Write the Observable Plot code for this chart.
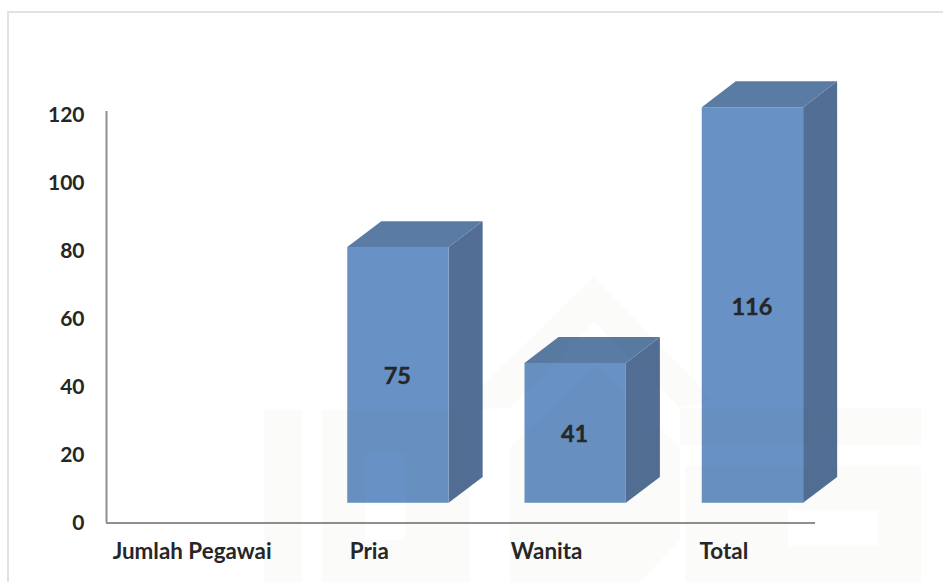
<!DOCTYPE html>
<html>
<head>
<meta charset="utf-8">
<script src="https://cdn.jsdelivr.net/npm/d3@7"></script>
<script src="https://cdn.jsdelivr.net/npm/@observablehq/plot@0.6"></script>
<style>
  html, body { margin: 0; padding: 0; background: #fff; }
  #wrap { position: relative; width: 943px; height: 582px; overflow: hidden; }
  #frame { position: absolute; left: 7px; top: 11px; width: 940px; height: 580px;
           border-left: 2px solid #e2e2e2; border-top: 2px solid #e2e2e2; }
  #mark { position: absolute; left: 0; top: 0; pointer-events: none; }
  #mark path { fill: rgb(90, 90, 50); fill-opacity: 0.022; fill-rule: evenodd; }
</style>
</head>
<body>
<div id="wrap">
  <div id="frame"></div>
  <div id="chart"></div>
  <svg id="mark" width="943" height="582" aria-hidden="true">
    <path d="M457 410L594 277L713 400L680 408L594 322L510 408Z"/>
    <path d="M264 410H302V582H264Z"/>
    <path d="M322 410H470V582H322ZM365 453V540H405V453Z"/>
    <path d="M510 447L594 365L680 447V540L640 582H510Z"/>
    <path d="M680 408H921V445H680Z"/>
    <path d="M685 466H921V582H685ZM788 510V546H878V510Z"/>
  </svg>
</div>
<script>
const categories = ["Jumlah Pegawai", "Pria", "Wanita", "Total"];
const values = [null, 75, 41, 116];
const yTicks = [0, 20, 40, 60, 80, 100, 120];

const font = "Lato, 'Open Sans', sans-serif";
const ink = "#262626";

// Geometry of the pseudo-3D bars, in units of the x and y scales
const barLeft = 0.361, barWidth = 0.572, depthX = 0.192, depthY = 7.6, floor = 5.8;

const bars = categories
  .map((name, i) => ({name, i, value: values[i]}))
  .filter(d => d.value != null)
  .map(d => ({...d, x0: d.i + barLeft, x1: d.i + barLeft + barWidth, y0: floor, y1: floor + d.value * 1.003}));

const sidePts = bars.flatMap(b => [
  {name: b.name, x: b.x1, y1: b.y0, y2: b.y1},
  {name: b.name, x: b.x1 + depthX, y1: b.y0 + depthY, y2: b.y1 + depthY}
]);
const topPts = bars.flatMap(b => [
  {name: b.name, x: b.x0, y1: b.y1, y2: b.y1},
  {name: b.name, x: b.x0 + depthX, y1: b.y1, y2: b.y1 + depthY},
  {name: b.name, x: b.x1, y1: b.y1, y2: b.y1 + depthY},
  {name: b.name, x: b.x1 + depthX, y1: b.y1 + depthY, y2: b.y1 + depthY}
]);

const bold = {fill: ink, stroke: ink, strokeWidth: 0.35, fontWeight: 700};

const chart = Plot.plot({
  width: 943,
  height: 582,
  marginLeft: 106,
  marginRight: 128,
  marginTop: 114,
  marginBottom: 59,
  style: {fontFamily: font, fontWeight: 700, fontSize: "21px", color: ink, background: "transparent", overflow: "visible"},
  x: {domain: [0, 4], range: [106, 815]},
  y: {domain: [0, 120], range: [522.5, 114.5]},
  marks: [
    Plot.areaY(sidePts, {x: "x", y1: "y1", y2: "y2", z: "name", fill: "#526e95"}),
    Plot.areaY(topPts, {x: "x", y1: "y1", y2: "y2", z: "name", fill: "#5a7ba3"}),
    Plot.rect(bars, {x1: "x0", x2: "x1", y1: "y0", y2: "y1", fill: "#6892c5"}),
    Plot.text(bars, {
      x: d => d.x0 + barWidth / 2 - 0.006,
      y: d => d.y0 + d.value / 2,
      dy: 1,
      text: d => String(d.value),
      fontSize: 23.5, ...bold
    }),
    Plot.axisY({ticks: yTicks, tickSize: 0, tickPadding: 22, label: null, fontSize: 21, ...bold}),
    Plot.axisX({
      ticks: categories.map((d, i) => i + 0.5),
      tickFormat: t => categories[Math.floor(t)],
      tickSize: 0, tickPadding: 20, label: null, dx: -3, fontSize: 22.4, ...bold
    }),
    Plot.ruleX([0], {y1: 0, y2: 121, stroke: "#8f8f8f", strokeWidth: 2}),
    Plot.ruleY([0], {x1: 0, x2: 4, stroke: "#8f8f8f", strokeWidth: 2})
  ]
});
document.getElementById("chart").appendChild(chart);
</script>
</body>
</html>
